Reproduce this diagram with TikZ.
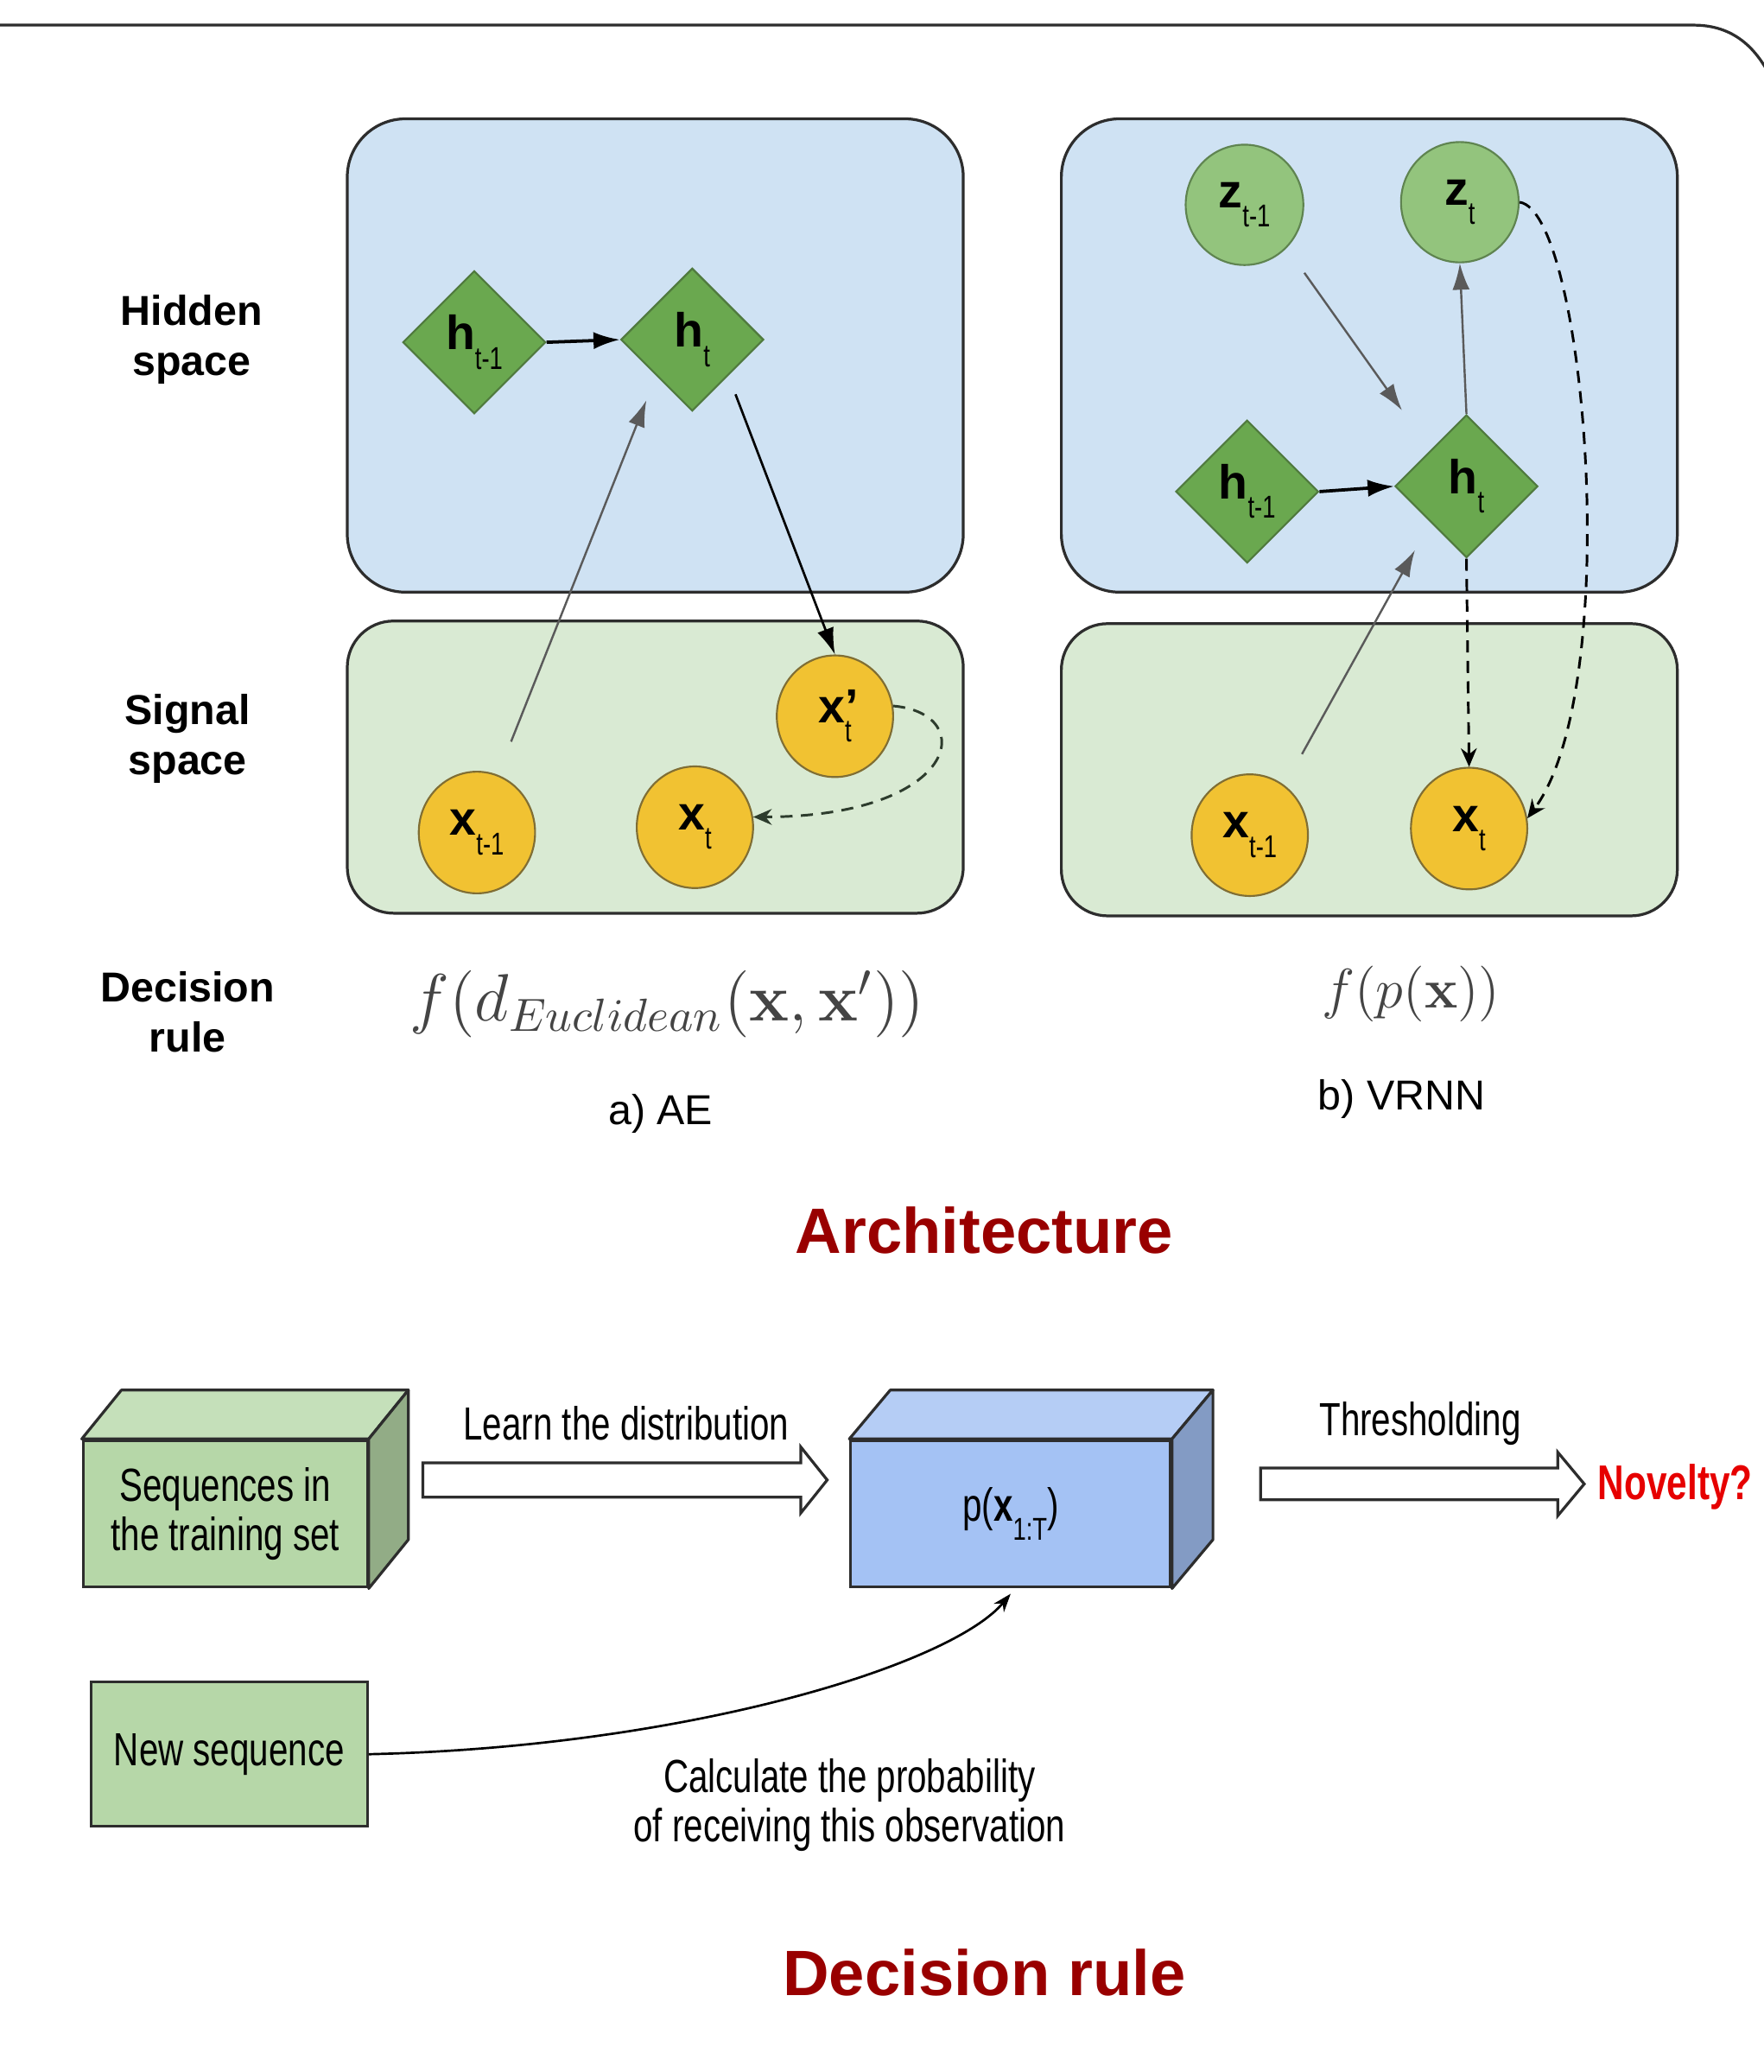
\documentclass[tikz,border=0pt]{standalone}
\usepackage[no-math]{fontspec}
\setmainfont{Liberation Sans}
\newfontfamily\narrowfont[FakeStretch=0.75]{Liberation Sans}
\usepackage{amsmath}
\usetikzlibrary{calc}
\usetikzlibrary{positioning}
\usetikzlibrary{shapes.geometric}
\usetikzlibrary{arrows.meta}
\definecolor{hiddenblue}{RGB}{207,226,243}
\definecolor{signalgreen}{RGB}{217,234,211}
\definecolor{hgreen}{RGB}{106,168,79}
\definecolor{hborder}{RGB}{80,122,62}
\definecolor{zgreen}{RGB}{147,196,125}
\definecolor{zborder}{RGB}{95,132,80}
\definecolor{xyellow}{RGB}{241,194,50}
\definecolor{xborder}{RGB}{128,110,52}
\definecolor{boxborder}{RGB}{45,45,45}
\definecolor{cubegreen}{RGB}{182,215,168}
\definecolor{cubegreentop}{RGB}{197,224,186}
\definecolor{cubegreenside}{RGB}{146,172,134}
\definecolor{cubeblue}{RGB}{164,194,244}
\definecolor{cubebluetop}{RGB}{181,205,245}
\definecolor{cubeblueside}{RGB}{131,155,196}
\definecolor{titlered}{RGB}{153,0,0}
\definecolor{novelred}{RGB}{230,0,0}
\definecolor{formulagray}{RGB}{68,68,68}
\definecolor{arrowgray}{RGB}{90,90,90}
\definecolor{dashgreen}{RGB}{45,60,45}
\newcommand{\lowsub}[1]{\raisebox{-0.4em}{\narrowfont\fontsize{6.8}{7}\selectfont #1}}
\tikzset{
  space_box/.style = {draw=boxborder, line width=0.6pt, inner sep=0pt},
  hidden_box/.style = {space_box, fill=hiddenblue, rounded corners=0.44cm,
    minimum width=4.66cm, minimum height=3.58cm},
  signal_box/.style = {space_box, fill=signalgreen, rounded corners=0.35cm,
    minimum width=4.66cm, minimum height=2.21cm},
  h_node/.style = {diamond, draw=hborder, fill=hgreen, inner sep=0pt,
    minimum width=1.08cm, minimum height=1.08cm, font=\fontsize{10.3}{12}\selectfont},
  z_node/.style = {ellipse, draw=zborder, fill=zgreen, inner sep=0pt,
    minimum width=0.89cm, minimum height=0.91cm, font=\fontsize{10.3}{12}\selectfont},
  x_node/.style = {ellipse, draw=xborder, fill=xyellow, inner sep=0pt,
    minimum width=0.88cm, minimum height=0.92cm, font=\fontsize{10.3}{12}\selectfont},
  side_label/.style = {align=center, font=\bfseries\fontsize{9}{10.8}\selectfont},
  formula/.style = {text=formulagray, font=\fontsize{13.6}{16}\selectfont},
  caption_text/.style = {font=\fontsize{9}{11}\selectfont},
  title_text/.style = {text=titlered, font=\bfseries\fontsize{13.8}{16}\selectfont},
  narrow_text/.style = {align=center, font=\narrowfont\fontsize{10}{10.5}\selectfont},
  cube_front/.style = {draw=boxborder, line width=0.6pt, narrow_text, inner sep=0pt},
  bold_arrow/.style = {-{Latex[length=0.2cm, width=0.13cm]}, line width=0.7pt, black},
  gray_arrow/.style = {-{Latex[length=0.2cm, width=0.13cm]}, line width=0.45pt, arrowgray},
  dash_arrow/.style = {-{Stealth[length=0.14cm, width=0.12cm]}, line width=0.55pt,
    dash pattern=on 2.6pt off 1.8pt},
  thin_arrow/.style = {-{Stealth[length=0.14cm, width=0.1cm]}, line width=0.5pt, black},
  fat_arrow/.style = {draw=boxborder, fill=white, line width=0.6pt, line join=miter}
}

\begin{document}
\begin{tikzpicture}[x=0.01cm, y=-0.01cm]
  \useasboundingbox (0,0) rectangle (1335,1568);
  % slide frame
  \draw[boxborder, line width=0.6pt] (0,19) -- (1282,19)
    .. controls (1312,19) and (1330,36) .. (1342,62);

  % space boxes
  \node[hidden_box] (ae_hidden) at (496,269) {};
  \node[signal_box] (ae_signal) at (496,580.5) {};
  \node[hidden_box] (vr_hidden) at (1036.5,269) {};
  \node[signal_box] (vr_signal) at (1036.5,582.5) {};

  \node[side_label] (lbl_hidden) at (145,257) {Hidden\\space};
  \node[side_label] (lbl_signal) at (142,559) {Signal\\space};
  \node[side_label] (lbl_rule) at (142,766) {Decision\\rule};

  % a) AE
  \node[h_node] (ae_hm) at (359,259) {\textbf{h}\lowsub{t-1}};
  \node[h_node] (ae_h) at (524,257) {\textbf{h}\lowsub{t}};
  \node[x_node] (ae_xm) at (361,630) {\textbf{x}\lowsub{t-1}};
  \node[x_node] (ae_x) at (526,626) {\textbf{x}\lowsub{t}};
  \node[x_node] (ae_xp) at (632,542) {\textbf{x}\makebox[0pt][l]{\textbf{’}}\lowsub{t}};

  \draw[bold_arrow] (ae_hm.east) -- (ae_h.west);
  \draw[gray_arrow, shorten <=0.27cm, shorten >=0.2cm] (ae_xm.70) -- (ae_h.south west);
  \draw[bold_arrow, line width=0.5pt, shorten <=0.15cm] (ae_h.south east) -- (ae_xp.north);
  \draw[dash_arrow, dashgreen] (ae_xp.10)
    .. controls (742,540) and (725,618) .. (ae_x.10);

  % b) VRNN
  \node[z_node] (vr_zm) at (942,155) {\textbf{z}\lowsub{t-1}};
  \node[z_node] (vr_z) at (1105,153) {\textbf{z}\lowsub{t}};
  \node[h_node] (vr_hm) at (944,372) {\textbf{h}\lowsub{t-1}};
  \node[h_node] (vr_h) at (1110,368) {\textbf{h}\lowsub{t}};
  \node[x_node] (vr_xm) at (946,632) {\textbf{x}\lowsub{t-1}};
  \node[x_node] (vr_x) at (1112,627) {\textbf{x}\lowsub{t}};

  \draw[gray_arrow, shorten <=0.23cm, shorten >=0.37cm] (vr_zm.south east) -- (vr_h.north west);
  \draw[gray_arrow] (vr_h.north) -- (vr_z.south);
  \draw[bold_arrow] (vr_hm.east) -- (vr_h.west);
  \draw[gray_arrow, shorten <=0.27cm, shorten >=0.24cm] (vr_xm.55) -- (vr_h.south west);
  \draw[dash_arrow] (vr_h.south) -- (vr_x.north);
  \draw[dash_arrow] (vr_z.east) .. controls (1200,160) and (1230,520) .. (vr_x.10);

  \node[formula] (ae_rule) at (505,760) {$f(d_{Euclidean}(\mathbf{x},\mathbf{x'}))$};
  \node[formula, font=\fontsize{13.2}{16}\selectfont] (vr_rule) at (1068,752) {$f(p(\mathbf{x}))$};
  \node[caption_text] (ae_cap) at (500,843) {a) AE};
  \node[caption_text] (vr_cap) at (1061,832) {b) VRNN};
  \node[title_text] (arch_title) at (745,931) {Architecture};

  % decision rule
  \node[cube_front, fill=cubegreen, minimum width=2.15cm, minimum height=1.11cm]
    (seq) at (170.5,1145.5) {Sequences in\\the training set};
  \draw[boxborder, line width=0.6pt, fill=cubegreentop, line join=round] (seq.north west)
    -- ++(30,-37) -- ([shift={(30,-37)}]seq.north east) -- (seq.north east) -- cycle;
  \draw[boxborder, line width=0.6pt, fill=cubegreenside, line join=round] (seq.north east)
    -- ++(30,-37) -- ([shift={(30,-37)}]seq.south east) -- (seq.south east) -- cycle;

  \node[cube_front, fill=cubeblue, minimum width=2.42cm, minimum height=1.11cm]
    (model) at (765,1145.5) {p(\textbf{x}\lowsub{1:T})};
  \draw[boxborder, line width=0.6pt, fill=cubebluetop, line join=round] (model.north west)
    -- ++(31,-37) -- ([shift={(31,-37)}]model.north east) -- (model.north east) -- cycle;
  \draw[boxborder, line width=0.6pt, fill=cubeblueside, line join=round] (model.north east)
    -- ++(31,-37) -- ([shift={(31,-37)}]model.south east) -- (model.south east) -- cycle;

  \node[cube_front, fill=cubegreen, minimum width=2.09cm, minimum height=1.09cm]
    (newseq) at (173.5,1327.5) {New sequence};

  \coordinate (learn_tail) at ([xshift=0.41cm, yshift=0.255cm]seq.east);
  \draw[fat_arrow] (learn_tail) ++(0,13) -- ++(286,0) -- ++(0,12) -- ++(20,-25)
    -- ++(-20,-25) -- ++(0,12) -- ++(-286,0) -- cycle;
  \node[narrow_text] (learn_lbl) at (474,1077) {Learn the distribution};

  \coordinate (thresh_tail) at ([xshift=0.67cm, yshift=0.225cm]model.east);
  \draw[fat_arrow] (thresh_tail) ++(0,12) -- ++(225,0) -- ++(0,12) -- ++(20,-24)
    -- ++(-20,-24) -- ++(0,12) -- ++(-225,0) -- cycle;
  \node[narrow_text] (thresh_lbl) at (1075,1077) {Thresholding};
  \node[narrow_text, text=novelred, font=\narrowfont\bfseries\fontsize{10.5}{12}\selectfont]
    (novelty) at (1268,1125) {Novelty?};

  \draw[thin_arrow] (newseq.east) .. controls (520,1322) and (720,1260) .. ([yshift=-0.04cm]model.south);
  \node[narrow_text] (calc_lbl) at (643,1366) {Calculate the probability\\of receiving this observation};

  \node[title_text] (rule_title) at (745,1493) {Decision rule};
\end{tikzpicture}
\end{document}
